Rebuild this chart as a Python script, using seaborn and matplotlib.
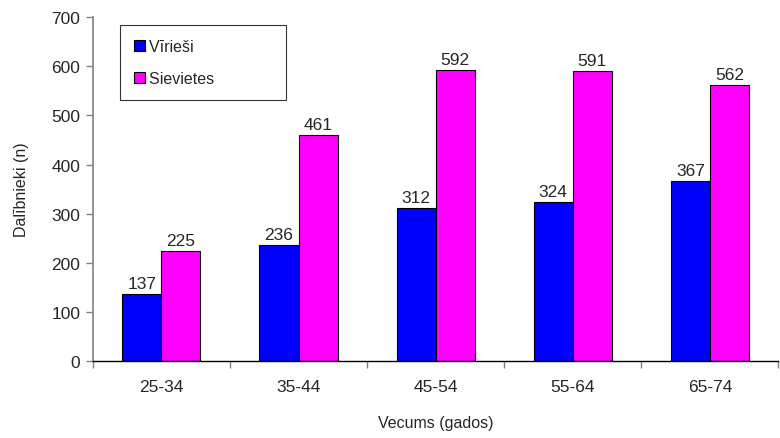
import numpy as np
import pandas as pd
import matplotlib
matplotlib.use("Agg")
import matplotlib.pyplot as plt
import seaborn as sns

# data
age_groups = ["25-34", "35-44", "45-54", "55-64", "65-74"]
men = [137, 236, 312, 324, 367]
women = [225, 461, 592, 591, 562]
series_names = ["Vīrieši", "Sievietes"]

df = pd.DataFrame({
    "age": age_groups * 2,
    "n": men + women,
    "sex": [series_names[0]] * len(men) + [series_names[1]] * len(women),
})

sns.set_style("white")
plt.rcParams["font.family"] = ["Liberation Sans", "DejaVu Sans"]

fig = plt.figure(figsize=(7.8, 4.39), dpi=100)
ax = fig.add_axes([0.119, 0.175, 0.879, 0.784])

sns.barplot(data=df, x="age", y="n", hue="sex", palette=["#0000ff", "#ff00ff"],
            width=0.57, edgecolor="black", linewidth=0.8, saturation=1, ax=ax)

for cont in ax.containers:
    ax.bar_label(cont, fontsize=12.5, padding=2)

ax.set_ylim(0, 700)
ax.set_yticks(range(0, 701, 100))
ax.set_xlim(-0.5, len(age_groups) - 0.5)
ax.set_xlabel("Vecums (gados)", fontsize=11.5, labelpad=15)
ax.set_ylabel("Dalībnieki (n)", fontsize=11.5, labelpad=16)
ax.tick_params(axis="y", labelsize=12.5, length=5, width=1, color="#808080", left=True, pad=4)
ax.tick_params(axis="x", which="major", labelsize=12.5, length=0, pad=13)
ax.set_xticks(np.arange(-0.5, len(age_groups)), minor=True)
ax.tick_params(axis="x", which="minor", length=5, width=1, color="#808080", bottom=True)

sns.despine(ax=ax)
ax.spines["left"].set_color("#808080")
ax.spines["bottom"].set_color("black")
ax.spines["left"].set_linewidth(1.2)
ax.spines["bottom"].set_linewidth(1.0)

leg = ax.legend(loc="upper left", bbox_to_anchor=(0.04, 0.976), fontsize=11.5,
                frameon=True, fancybox=False, edgecolor="black", labelspacing=1.1,
                handlelength=0.7, handleheight=0.7, handletextpad=0.25,
                borderpad=0.85, borderaxespad=0)
leg.get_frame().set_linewidth(0.8)
# widen frame a bit like the original
for t in leg.get_texts():
    t.set_text(t.get_text() + "             ")

fig.savefig("out.png", dpi=100)
